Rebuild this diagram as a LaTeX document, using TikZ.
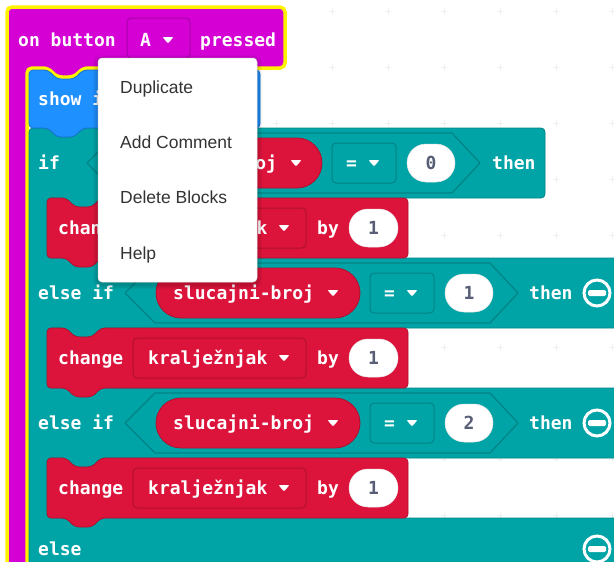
\documentclass[tikz,border=0pt]{standalone}
\usepackage{fontspec}
\newfontfamily\blkfam{DejaVu Sans Mono}
\newfontfamily\menufam{Liberation Sans}
\newcommand\blkfont{\blkfam\bfseries\fontsize{18}{20}\selectfont}
\newcommand\menufont{\menufam\fontsize{17.5}{20}\selectfont}
\definecolor{hatcol}{HTML}{D400D4}
\definecolor{hatdark}{HTML}{A800A8}
\definecolor{selcol}{HTML}{FFF200}
\definecolor{bluecol}{HTML}{1E90FF}
\definecolor{bluedark}{HTML}{1873CC}
\definecolor{tealcol}{HTML}{00A4A6}
\definecolor{tealdark}{HTML}{008385}
\definecolor{redcol}{HTML}{DC143C}
\definecolor{reddark}{HTML}{B0102F}
\definecolor{numcol}{HTML}{575E75}
\definecolor{menutext}{HTML}{333333}
\definecolor{gridcol}{HTML}{EFEFEF}
% statement block with top notch and bottom tab: style, x0, y0, x1, y1
\newcommand\blockshape[5]{%
 \pgfmathsetmacro\na{#2+19}\pgfmathsetmacro\nb{#2+28}%
 \pgfmathsetmacro\nc{#2+45}\pgfmathsetmacro\nd{#2+54}%
 \pgfmathsetmacro\ta{#3+9}\pgfmathsetmacro\tb{#5+9}%
 \draw[#1,rounded corners=4] (#2,#3) -- (\na,#3) -- (\nb,\ta) -- (\nc,\ta) -- (\nd,#3) -- (#4,#3) -- (#4,#5) -- (\nd,#5) -- (\nc,\tb) -- (\nb,\tb) -- (\na,#5) -- (#2,#5) -- cycle;}
% dropdown arrow centred at x,y
\newcommand\ddarrow[2]{\fill[white, rounded corners=1] (#1-5.5,#2-3) -- (#1+5.5,#2-3) -- (#1,#2+3.5) -- cycle;}
% boolean hexagon: left x, top y
\newcommand\hexa[2]{\draw[draw=tealdark, line width=1.2, fill=tealcol, line join=round] (#1,#2+30) -- (#1+30,#2) -- (#1+365,#2) -- (#1+393,#2+30) -- (#1+365,#2+60) -- (#1+30,#2+60) -- cycle;}
% minus icon centred at x,y
\newcommand\minusicon[2]{\draw[white, line width=3] (#1,#2) circle (13);
 \fill[white, rounded corners=1.5] (#1-9,#2-3) rectangle (#1+9,#2+3);}
\begin{document}
\begin{tikzpicture}[x=1pt,y=-1pt,
  lbl/.style={inner sep=0pt, anchor=base west, text=white, font=\blkfont},
  numlbl/.style={inner sep=0pt, anchor=base, text=numcol, font=\blkfont},
  menuitem/.style={inner sep=0pt, anchor=base west, text=menutext, font=\menufont},
  tealstyle/.style={fill=tealcol, draw=tealdark, line width=0.8},
  redstyle/.style={fill=redcol, draw=reddark, line width=0.8},
  ddteal/.style={fill=tealcol, draw=tealdark, line width=1, rounded corners=4},
  ddred/.style={fill=redcol, draw=reddark, line width=1, rounded corners=4},
  pill/.style={fill=redcol, draw=reddark, line width=0.8, rounded corners=25},
  oval/.style={fill=white, draw=black!10, line width=0.5, rounded corners=19}]
\useasboundingbox (0,0) rectangle (614,562);
\fill[white] (0,0) rectangle (614,562);
\begin{scope}
\clip (0,0) rectangle (614,562);
% workspace grid
\foreach \gx in {52,108,...,612} \foreach \gy in {11,67,...,571}
  {\draw[gridcol, line width=0.8] (\gx-3,\gy) -- (\gx+3,\gy) (\gx,\gy-3) -- (\gx,\gy+3);}
% hat block (selected)
\draw[fill=hatcol, draw=selcol, line width=3.5, rounded corners=5] (7,7) -- (285,7) -- (285,68) -- (83,68) -- (74,77) -- (57,77) -- (48,68) -- (27,68) -- (27,620) -- (7,620) -- cycle;
\draw[fill=hatcol, draw=hatdark, line width=1, rounded corners=4] (127,18) rectangle (190,58);
\node (on) [lbl] at (18,46) {on button};
\node (keyA) [lbl] at (140,46) {A};
\ddarrow{168}{40}
\node (pressed) [lbl] at (200,46) {pressed};
% if / else if / else block
\draw[tealstyle, rounded corners=4] (29,128) -- (48,128) -- (57,137) -- (74,137) -- (83,128) -- (545,128) -- (545,198)
  -- (101,198) -- (92,207) -- (75,207) -- (66,198) -- (47,198) -- (47,258) -- (640,258) -- (640,328)
  -- (101,328) -- (92,337) -- (75,337) -- (66,328) -- (47,328) -- (47,388) -- (640,388) -- (640,458)
  -- (101,458) -- (92,467) -- (75,467) -- (66,458) -- (47,458) -- (47,518) -- (640,518) -- (640,620) -- (29,620) -- cycle;
% show block
\blockshape{fill=bluecol, draw=bluedark, line width=0.8}{29}{70}{260}{128}
\node (show) [lbl] at (38,105) {show i};
% if row
\node (if) [lbl] at (38,169) {if};
\hexa{87}{133}
\draw[pill] (118,138) rectangle (322,188);
\node (var0) [lbl] at (136,169) {slucajni-broj};
\ddarrow{296}{163}
\draw[ddteal] (332,143) rectangle (396,183);
\node (eq0) [lbl] at (346,169) {=};
\ddarrow{374}{163}
\draw[oval] (407,144) rectangle (455,182);
\node (n0) [numlbl] at (431,169) {0};
\node (then0) [lbl] at (492,169) {then};
% else if rows
\foreach \r/\v in {258/1, 388/2} {
  \node (elseif\v) [lbl] at (38,\r+41) {else if};
  \hexa{125}{\r+5}
  \draw[pill] (156,\r+10) rectangle (360,\r+60);
  \node (var\v) [lbl] at (173,\r+41) {slucajni-broj};
  \ddarrow{333}{\r+35}
  \draw[ddteal] (370,\r+15) rectangle (434,\r+55);
  \node (eq\v) [lbl] at (384,\r+41) {=};
  \ddarrow{412}{\r+35}
  \draw[oval] (445,\r+16) rectangle (493,\r+54);
  \node (n\v) [numlbl] at (469,\r+41) {\v};
  \node (then\v) [lbl] at (529,\r+41) {then};
  \minusicon{597}{\r+35}
}
% else row
\node (else) [lbl] at (38,555) {else};
\minusicon{597}{549}
% change blocks
\foreach \t/\k in {198/a, 328/b, 458/c} {
  \blockshape{redstyle}{47}{\t}{408}{\t+60}
  \node (change\k) [lbl] at (58,\t+36) {change};
  \draw[ddred] (133,\t+10) rectangle (306,\t+50);
  \node (kr\k) [lbl] at (148,\t+36) {kralježnjak};
  \ddarrow{284}{\t+30}
  \node (by\k) [lbl] at (317,\t+36) {by};
  \draw[oval] (349,\t+11) rectangle (398,\t+49);
  \node (one\k) [numlbl] at (373.5,\t+36) {1};
}
% context menu
\foreach \s in {1,2,3,4,5}
  {\fill[black, opacity=0.035, rounded corners=4+\s] (98-\s,58-\s+2) rectangle (257+\s,282+\s+2);}
\draw[fill=white, draw=black!12, line width=0.5, rounded corners=4] (98,58) rectangle (257,282);
\node (dup) [menuitem] at (120,93) {Duplicate};
\node (addc) [menuitem] at (120,148) {Add Comment};
\node (del) [menuitem] at (120,203) {Delete Blocks};
\node (help) [menuitem] at (120,259) {Help};
\end{scope}
\end{tikzpicture}
\end{document}
